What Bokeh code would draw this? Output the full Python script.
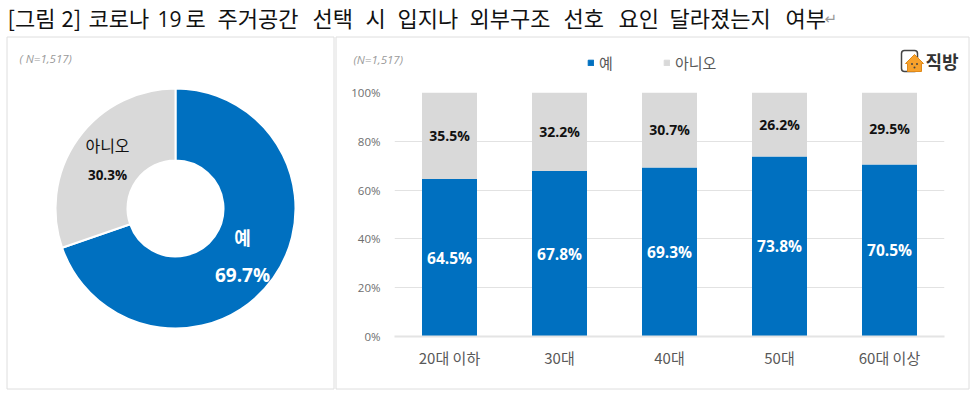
from bokeh.embed import file_html
from bokeh.resources import INLINE
from bokeh.plotting import figure
from bokeh.models import (ColumnDataSource, Label, Legend, LegendItem, Range1d, FactorRange)
from bokeh.core.properties import value
import math

title_words = ["[그림", "2]", "코로나", "19", "로", "주거공간", "선택", "시", "입지나", "외부구조",
               "선호", "요인", "달라졌는지", "여부"]
title_x = [7, 61, 88, 157, 185, 217, 312, 365, 397, 469, 563, 618, 669, 785]

donut_labels = ["예", "아니오"]
donut_values = [69.7, 30.3]

ages = ["20대 이하", "30대", "40대", "50대", "60대 이상"]
yes_values = [64.5, 67.8, 69.3, 73.8, 70.5]
no_values = [35.5, 32.2, 30.7, 26.2, 29.5]
y_ticks = [0, 20, 40, 60, 80, 100]
n_note_left = "( N=1,517)"
n_note_right = "(N=1,517)"

BLUE = "#0070C0"
GREY = "#D9D9D9"
BORDER = "#DEDEDE"
KR = "Noto Sans CJK KR"
NUM = "Open Sans"
W, H = 970, 393


def Y(py):
    return H - py


# ---------- background sheet: title, panels, donut, notes, legend, logo ----------
bg = figure(width=W, height=H, x_range=Range1d(0, W), y_range=Range1d(0, H),
            output_backend="svg", toolbar_location=None, min_border=0, outline_line_color=None)
bg.axis.visible = False
bg.grid.visible = False


def label(x, py, text, **kw):
    kw.setdefault("text_baseline", "middle")
    bg.add_layout(Label(x=x, y=Y(py), text=text, **kw))


for w, x in zip(title_words, title_x):
    if w == "19":
        label(x, 18, w, text_font=NUM, text_font_size="21px", text_color="#111111")
    else:
        label(x, 16, w, text_font=KR, text_font_size="22px", text_color="#111111")
label(824, 18, "↵", text_font="DejaVu Sans", text_font_size="15px", text_color="#999999")

# panels
bg.quad(left=[6.5, 335.5], right=[333.5, 968.5], top=[Y(36.5)] * 2, bottom=[Y(388.5)] * 2,
        fill_color=None, line_color=BORDER, line_width=1)

# donut
CX, CY = 175, 208
acc = 0
starts, ends = [], []
for v in donut_values:
    starts.append(math.pi / 2 - acc / 100 * 2 * math.pi)
    acc += v
    ends.append(math.pi / 2 - acc / 100 * 2 * math.pi)
dsrc = ColumnDataSource(dict(start=ends, end=starts, color=[BLUE, GREY], label=donut_labels))
bg.annular_wedge(x=CX, y=Y(CY), inner_radius=48, outer_radius=120, start_angle="start", end_angle="end",
                 fill_color="color", line_color="white", line_width=2, source=dsrc)
label(242, 236, donut_labels[0], text_font=KR, text_font_style="bold", text_font_size="18px",
      text_color="white", text_align="center")
label(242, 274, f"{donut_values[0]}%", text_font=NUM, text_font_style="bold", text_font_size="19px",
      text_color="white", text_align="center")
label(107, 144, donut_labels[1], text_font=KR, text_font_size="16px", text_color="#111111", text_align="center")
label(107, 174, f"{donut_values[1]}%", text_font=NUM, text_font_style="bold", text_font_size="13.5px",
      text_color="#111111", text_align="center")
label(19, 58, n_note_left, text_font=NUM, text_font_style="italic", text_font_size="11.5px", text_color="#9a9a9a")
label(353, 59, n_note_right, text_font=NUM, text_font_style="italic", text_font_size="11.5px", text_color="#9a9a9a")

# legend: the key glyphs sit off the sheet, only their legend swatches show
r_yes_key = bg.quad(left=[-100], right=[-99], top=[-99], bottom=[-100], fill_color=BLUE, line_color=BLUE)
r_no_key = bg.quad(left=[-100], right=[-99], top=[-99], bottom=[-100], fill_color=GREY, line_color=GREY)
legend = Legend(items=[LegendItem(label="예", renderers=[r_yes_key]), LegendItem(label="아니오", renderers=[r_no_key])],
                orientation="horizontal", location=(587, Y(73)), border_line_color=None,
                background_fill_alpha=0, label_text_font=KR, label_text_font_size="15px",
                label_text_color="#595959", glyph_width=7, glyph_height=7, spacing=44,
                label_standoff=5, padding=0, margin=0)
bg.add_layout(legend, "center")

# logo
bg.quad(left=[901], right=[917], top=[Y(50)], bottom=[Y(71)], fill_color="white",
        line_color="#444444", line_width=1.5, border_radius=3)
bg.patch(x=[914, 923, 921, 921, 907, 907, 905], y=[Y(v) for v in [54, 63, 63, 71, 71, 63, 63]],
         fill_color="#F7A12B", line_color="#E08A1A", line_width=1)
bg.scatter(x=[911.5, 916.5], y=[Y(63.5)] * 2, marker="circle", size=2, fill_color="#444444", line_color=None)
bg.scatter(x=[914], y=[Y(67)], marker="circle", size=2, fill_color="#444444", line_color=None)
label(925, 60, "직방", text_font=KR, text_font_style="bold", text_font_size="18px", text_color="#333333")

# ---------- stacked bars ----------
BW, BH = 634, 352
b = figure(width=BW, height=BH, x_range=FactorRange(*ages, factor_padding=0, range_padding=0),
           y_range=Range1d(0, 100), output_backend="svg", toolbar_location=None,
           min_border_left=59, min_border_right=25, min_border_top=56, min_border_bottom=52,
           outline_line_color=None, background_fill_alpha=0, border_fill_alpha=0,
           styles={"position": "absolute", "left": "335px", "top": "36px"})
src = ColumnDataSource(dict(
    age=ages, yes=yes_values, no=no_values,
    yes_mid=[v / 2 for v in yes_values],
    no_mid=[y + n / 2 for y, n in zip(yes_values, no_values)],
    yes_txt=[f"{v}%" for v in yes_values], no_txt=[f"{v}%" for v in no_values]))
b.vbar(x="age", bottom=0, top="yes", width=0.5, fill_color=BLUE, line_color=None, source=src)
b.vbar(x="age", bottom="yes", top=100, width=0.5, fill_color=GREY, line_color=None, source=src)
b.text(x="age", y="yes_mid", text="yes_txt", text_font=value(NUM), text_font_style="bold",
       text_font_size="15.5px", text_color="white", text_align="center", text_baseline="middle", source=src)
b.text(x="age", y="no_mid", text="no_txt", text_font=value(NUM), text_font_style="bold",
       text_font_size="14px", text_color="#111111", text_align="center", text_baseline="middle", source=src)

b.yaxis.ticker = y_ticks
b.yaxis.major_label_overrides = {v: f"{v}%" for v in y_ticks}
b.yaxis.major_label_text_font = NUM
b.yaxis.major_label_text_font_size = "11.5px"
b.yaxis.major_label_text_color = "#6e6e6e"
b.yaxis.major_label_standoff = 8
b.yaxis.axis_line_color = None
b.yaxis.major_tick_line_color = None
b.yaxis.minor_tick_line_color = None
b.xaxis.major_label_text_font = KR
b.xaxis.major_label_text_font_size = "15px"
b.xaxis.major_label_text_color = "#595959"
b.xaxis.major_label_standoff = 4
b.xaxis.axis_line_color = "#E4E4E4"
b.xaxis.axis_line_width = 2
b.xaxis.major_tick_line_color = None
b.xaxis.minor_tick_line_color = None
b.xgrid.visible = False
b.ygrid.grid_line_color = "#E2E2E2"
b.ygrid.level = "underlay"

html = file_html([bg, b], INLINE)
html = html.replace("<body>", '<body style="margin:0;overflow:hidden">', 1)
open("out.html", "w").write(html)
